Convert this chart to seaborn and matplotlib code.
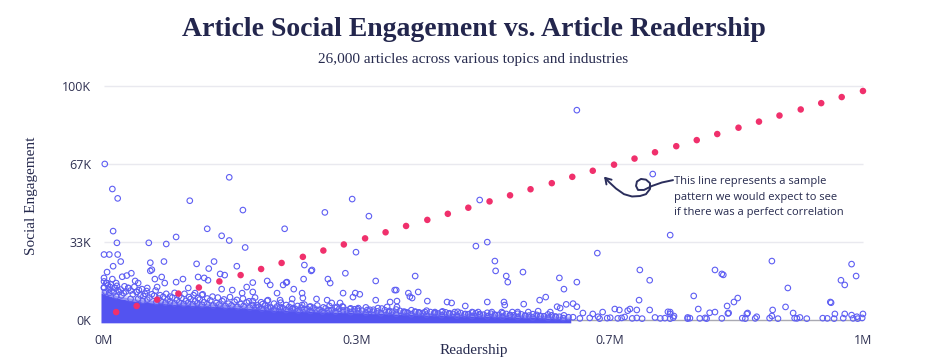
import pandas as pd
import seaborn as sns
import matplotlib.pyplot as plt
from matplotlib.patches import FancyArrowPatch
from matplotlib.path import Path

# values in thousands (readership K, social engagement K)
line_read = [16, 43, 70, 98, 125, 152, 180, 207, 234, 262, 289, 316, 344, 371, 398, 426, 453,
             480, 508, 535, 562, 590, 617, 644, 672, 699, 726, 754, 781, 808, 836, 863, 890,
             918, 945, 972, 1000]
line_eng = [3.4, 6.0, 8.7, 11.3, 13.9, 16.5, 19.2, 21.8, 24.4, 27.0, 29.7, 32.3, 34.9, 37.5,
            40.2, 42.8, 45.4, 48.0, 50.7, 53.3, 55.9, 58.5, 61.2, 63.8, 66.4, 69.0, 71.7, 74.3,
            76.9, 79.5, 82.2, 84.8, 87.4, 90.0, 92.7, 95.3, 97.9]

# scattered articles with high engagement
high_read = [1, 11, 18, 113, 165, 183, 12, 17, 59, 82, 95, 136, 155, 165, 186, 238, 0, 7, 18, 22,
             12, 61, 61, 63, 79, 122, 138, 145, 175, 264, 273, 4, 24, 30, 36, 153, 159, 104, 124,
             137, 196, 215, 240, 263, 623, 327, 291, 349, 495, 490, 505, 332, 650, 318, 295, 298,
             358, 410, 515, 516, 530, 532, 552, 600, 606, 623, 723, 746, 880, 706, 719, 805, 814,
             816, 985, 971, 976, 991, 901, 0, 11, 67, 76, 95, 132, 4, 16, 41, 45, 57, 70, 80, 111,
             155, 169, 188, 0, 8, 18, 32, 50, 219, 236, 241, 250, 385, 196, 414, 383, 274]
high_eng = [66.7, 56, 52, 51, 61, 47, 38, 33, 33, 32.5, 35.5, 39, 36, 34, 31, 39, 28, 28, 28, 25,
            23, 24.5, 21, 21.5, 25, 24, 22, 25, 23, 23.5, 21, 20.5, 18.5, 19, 20, 19.7, 19.2, 17.5,
            18.4, 17, 16, 16.7, 16, 17.5, 89.7, 51.7, 46, 44.4, 51.3, 31.6, 33.3, 29, 28.6, 20,
            17.5, 15.8, 16.7, 18.8, 25.2, 21, 18.8, 16.2, 20.5, 18, 13.2, 16.2, 62.4, 36.3, 25.2,
            21.4, 17, 21.4, 19.7, 19.3, 23.9, 17, 15, 18.8, 13.7, 18, 17.5, 17.5, 18.4, 16.2, 18,
            15.8, 15.8, 16.7, 15.8, 13.7, 14.1, 15.8, 13.7, 13.2, 12.8, 14.1, 13.7, 14.1, 12.8,
            13.7, 13.2, 15, 15, 16.2, 13.2, 12.8, 12, 12, 12.8, 21.4]

# articles with low engagement above the dense band
low_read = [120, 129, 182, 43, 228, 261, 262, 280, 315, 331, 337, 328, 196, 216, 232, 248, 294,
            311, 300, 358, 377, 386, 202, 209, 219, 232, 249, 261, 271, 307, 315, 324, 335, 347,
            361, 373, 386, 401, 406, 403, 426, 452, 458, 476, 505, 527, 528, 553, 574, 582, 572,
            588, 597, 609, 618, 623, 397, 410, 423, 436, 445, 462, 485, 493, 511, 524, 538, 545,
            559, 777, 705, 835, 830, 821, 957, 958, 783, 898, 881, 823, 848, 908, 805, 601, 673,
            693, 719, 702, 746, 657, 631, 644, 679, 690, 743, 746, 798, 822, 847, 963, 976, 985,
            1000]
low_eng = [11.5, 10.7, 11.5, 12, 11.5, 11.5, 9.4, 9, 11.5, 11.5, 11, 9.8, 8.1, 8.5, 8.5, 9, 8.5,
           7.3, 7.3, 8.5, 7.7, 8.1, 6.4, 6.8, 5.6, 5.6, 5.1, 6.4, 5.6, 5.6, 5.6, 4.7, 5.1, 4.3,
           5.1, 5.6, 5.6, 11.5, 9.4, 10, 8.1, 7.7, 7.3, 6, 7.7, 7.7, 6.4, 6.8, 8.5, 9.8, 3.8,
           3.4, 5.7, 6.7, 7, 5.7, 3.4, 3.4, 3.4, 3.4, 3.4, 3.4, 3.4, 3.4, 3.4, 3.4, 3.4, 3.4,
           3.4, 10.3, 8.5, 9.4, 7.7, 6, 7.7, 7.4, 4.7, 5.6, 4.3, 3, 3, 3, 3.4, 5.1, 4.7, 4.7,
           4.3, 4.3, 3.4, 3.4, 3, 2.6, 4.3, 4, 3.5, 2.6, 3.1, 2.8, 2.6, 2.6, 2.6, 2.1, 2.6]

# top edge of the dense band of articles
edge_read = [0, 3, 0, 6, 10, 14, 20, 26, 32, 38, 43, 48, 54, 60, 66, 72, 78, 84, 90, 96, 102,
             108, 114, 120, 126, 132, 140, 148, 156, 164, 172, 180, 188, 196, 204, 212, 220, 228,
             236, 244, 252, 260, 268, 276, 284, 292, 300, 310, 320, 330, 340, 350, 360, 370, 380,
             390, 400, 410, 420, 430, 440, 450, 460, 470, 480, 490, 500, 510, 520, 530, 540, 550,
             560, 570, 580, 590, 600]
edge_eng = [14, 15.8, 16.5, 13, 12.4, 13.8, 12, 11.5, 13.7, 11, 12, 10.5, 11.2, 9.6, 10.4, 9.2,
            9.9, 8.8, 9.6, 8.6, 9.4, 8.2, 9, 8, 8.8, 7.6, 8.4, 7.3, 8, 7, 7.8, 6.8, 7.5, 6.4, 5.6,
            6.2, 5.2, 5.8, 5, 5.6, 4.8, 5.3, 4.6, 5.2, 4.4, 5, 4.3, 4.8, 4.1, 4.6, 4, 4.4, 3.7,
            4.2, 3.5, 3.9, 3.2, 3.6, 3, 3.4, 2.8, 3.3, 2.6, 3, 2.5, 2.9, 2.3, 2.7, 2.2, 2.6, 2,
            2.4, 1.9, 2.2, 1.6, 2, 1.4]

# second, looser fringe above the dense band
fringe_read = [2, 5, 9, 13, 17, 22, 27, 29, 35, 40, 46, 52, 56, 63, 68, 74, 82, 87, 93, 99, 106,
               112, 118, 124, 130, 136, 143, 150, 158, 166, 175, 183, 191, 199, 207, 215, 224,
               233, 240, 247, 255, 264, 272, 281, 289, 297, 305, 314, 325, 334, 345, 355, 366,
               376, 385, 395, 405, 415, 425, 436, 446, 455, 466, 476, 486, 495, 505, 515, 525,
               535, 545, 555, 565, 575, 585, 595, 606, 612]
fringe_eng = [12, 14.8, 15.2, 11.8, 14.6, 13, 14.4, 12.2, 12.6, 14.2, 12.8, 10.2, 12.4, 11,
              12.6, 10.6, 11.2, 10, 11.6, 10.3, 11.2, 9.8, 10.6, 9.4, 11, 9.2, 10, 9.6, 8.8,
              9.8, 8.6, 9.2, 8, 9.6, 7.6, 8.2, 7, 7.4, 6.4, 7, 6, 6.6, 5.8, 6.2, 5.4, 6, 5.2,
              5.8, 5, 4.6, 5.4, 4.4, 4.9, 3.9, 4.5, 3.6, 4.2, 3.3, 4, 3, 3.7, 2.9, 3.5, 2.6,
              3.2, 2.5, 3.1, 2.3, 2.9, 2.2, 2.7, 1.9, 2.5, 1.8, 2.4, 1.5, 2, 1.2]

# rings sitting on the rim of the dense band
rim_read = [7, 16, 23, 35, 45, 51, 57, 69, 75, 81, 87, 93, 99, 105, 111, 117, 123, 129, 136, 144,
            152, 160, 168, 176, 184, 192, 200, 208, 216, 224, 232, 240, 248, 256, 264, 272, 280,
            288, 296, 305, 315, 325, 335, 345, 355, 365, 375, 385, 395, 405, 415, 425, 435, 445,
            455, 465, 475, 485, 495, 505, 515, 525, 535, 545, 555, 565, 575, 585, 595]
rim_eng = [11.6, 10.2, 10.5, 9, 9.1, 8.2, 8.7, 7.7, 8.1, 7.4, 7.9, 7.1, 7.6, 6.9, 7.4, 6.7, 7.2,
           6.5, 6.9, 6.2, 6.7, 5.9, 6.3, 5.6, 6, 5.3, 5.7, 4.9, 5.3, 4.5, 5, 4.3, 4.8, 4.1, 4.6,
           3.9, 4.4, 3.7, 4.2, 3.6, 4.1, 3.4, 3.9, 3.2, 3.6, 2.9, 3.4, 2.7, 3.2, 2.5, 3, 2.3, 2.8,
           2.1, 2.6, 1.9, 2.4, 1.7, 2.3, 1.6, 2.1, 1.5, 2, 1.3, 1.8, 1.1, 1.6, 0.9, 1.3]

# sparse articles along the baseline on the right
base_read = [605, 618, 627, 640, 651, 653, 663, 667, 677, 682, 686, 696, 702, 709, 726, 733, 739,
             746, 750, 751, 769, 769, 772, 785, 792, 794, 814, 841, 845, 858, 860, 877, 880, 888,
             910, 913, 917, 926, 947, 953, 962, 974, 987, 992, 993, 999]
base_eng = [0.8, 1.2, 0.7, 0.9, 1.4, 0.6, 0.8, 1.0, 0.7, 0.9, 1.3, 0.7, 0.9, 0.6, 1.1, 0.7, 0.8,
            0.6, 1.0, 1.7, 1.1, 0.6, 0.8, 0.7, 0.9, 0.6, 0.7, 0.8, 0.6, 0.7, 1.4, 0.8, 1.7, 0.6,
            0.8, 0.7, 1.1, 0.6, 0.8, 0.7, 0.6, 0.8, 0.7, 1.4, 0.6, 0.9]

# the dense mass of articles (upper envelope)
core_read = [-4, 5, 15, 30, 50, 80, 110, 150, 190, 230, 280, 340, 400, 460, 520, 580, 615]
core_top = [11.5, 10.5, 9.5, 8.6, 7.7, 7, 6.4, 5.8, 5, 4.2, 3.6, 3.1, 2.4, 1.9, 1.5, 1, 0.2]

BLUE = "#5e5ef3"
PINK = "#f0306c"
NAVY = "#262a4e"

sns.set_style("white")
plt.rcParams["font.family"] = ["Open Sans", "DejaVu Sans"]

fig = plt.figure(figsize=(9.31, 3.62), dpi=100)
ax = fig.add_axes([0.1052, 0.0901, 0.8315, 0.698])

yticks = [0, 100 / 3, 200 / 3, 100]
xticks = [0, 1000 / 3, 2000 / 3, 1000]
ax.hlines(yticks[1:], 0, 1000, color="#e9e9ef", lw=1, zorder=0)
ax.hlines(0, 0, 1000, color="#a9a9b2", lw=1, zorder=0)

# dense core, with a soft halo where the rings thin out
ax.fill_between(core_read, -1.2, core_top, color="#5353f0", lw=0, zorder=1)
for extra, alpha in [(1.0, 0.5), (2.0, 0.22)]:
    ax.fill_between(core_read, core_top, [t + extra for t in core_top],
                    color="#5656f1", alpha=alpha, lw=0, zorder=1)

blue = pd.concat([
    pd.DataFrame({"read": high_read, "eng": high_eng}),
    pd.DataFrame({"read": low_read, "eng": low_eng}),
    pd.DataFrame({"read": edge_read, "eng": edge_eng}),
    pd.DataFrame({"read": fringe_read, "eng": fringe_eng}),
    pd.DataFrame({"read": rim_read, "eng": rim_eng}),
    pd.DataFrame({"read": base_read, "eng": base_eng}),
])
sns.scatterplot(data=blue, x="read", y="eng", ax=ax, marker="o", s=16,
                facecolors="none", edgecolors=BLUE, linewidth=0.8, zorder=2)

trend = pd.DataFrame({"read": line_read, "eng": line_eng})
sns.scatterplot(data=trend, x="read", y="eng", ax=ax, s=22, color=PINK,
                edgecolor="none", zorder=3)

ax.set_xlim(-8, 1012)
ax.set_ylim(-4, 104)
ax.set_xticks(xticks)
ax.set_xticklabels(["0M", "0.3M", "0.7M", "1M"])
ax.set_yticks(yticks)
ax.set_yticklabels(["0K", "33K", "67K", "100K"])
ax.tick_params(length=0, labelsize=9, labelcolor="#2f3152")
ax.tick_params(axis="y", pad=5)
ax.tick_params(axis="x", pad=3)
ax.set_xlabel("")
ax.set_ylabel("")
sns.despine(ax=ax, left=True, bottom=True)

# curly arrow pointing at the trend dots
arrow_read = [749.7, 735.2, 722.0, 711.5, 703.6, 701.0, 702.2, 707.5, 714.1, 719.4, 719.4,
              714.1, 706.2, 695.7, 685.1, 674.6, 665.3, 658.8]
arrow_eng = [59.8, 58.8, 57.3, 55.6, 55.6, 57.3, 59.2, 60.3, 60.0, 58.5, 56.0, 53.8, 53.0,
             52.8, 53.8, 56.2, 59.0, 61.3]
arrow = FancyArrowPatch(path=Path(list(zip(arrow_read, arrow_eng))),
                        arrowstyle="->,head_length=4,head_width=2.5",
                        color="#2b2e5c", lw=1.4, zorder=4)
ax.add_patch(arrow)
fig.text(0.724, 0.4558, "This line represents a sample\npattern we would expect to see\n"
         "if there was a perfect correlation", fontsize=8, color=NAVY,
         va="center", ha="left", linespacing=1.62)

serif = ["Liberation Serif", "DejaVu Serif"]
fig.text(0.5086, 0.9006, "Article Social Engagement vs. Article Readership",
         family=serif, fontsize=20, fontweight="bold", color="#23264d",
         ha="center", va="baseline")
fig.text(0.5086, 0.826, "26,000 articles across various topics and industries",
         family=serif, fontsize=11, color=NAVY, ha="center", va="baseline")
fig.text(0.034, 0.458, "Social Engagement", family=serif, fontsize=11, color=NAVY,
         rotation=90, ha="center", va="center")
fig.text(0.5091, 0.033, "Readership", family=serif, fontsize=11, color=NAVY,
         ha="center", va="center")

fig.savefig("out.png", dpi=100)
